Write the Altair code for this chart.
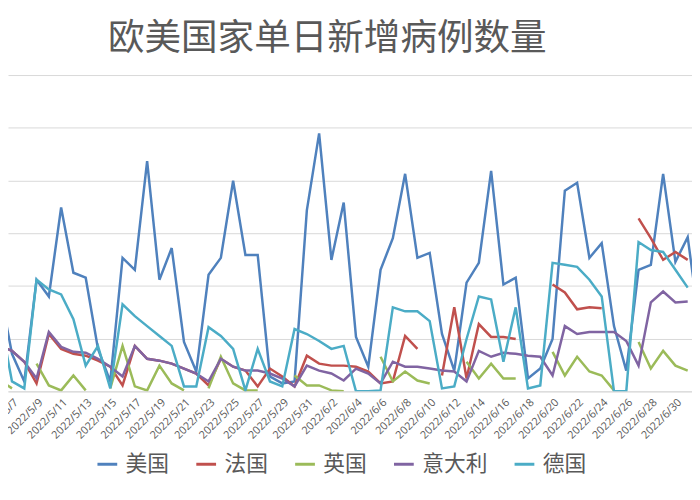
import altair as alt
import pandas as pd

# categories
dates = [d.strftime("%Y-%m-%d") for d in pd.date_range("2022-05-06", "2022-07-02", freq="D")]
tick_dates = [d for d in pd.date_range("2022-05-07", "2022-07-02", freq="2D")]
series_names = ["美国", "法国", "英国", "意大利", "德国"]
colors = ["#4F81BD", "#C0504D", "#9BBB59", "#8064A2", "#4BACC6"]

# series values (daily new cases)
us = [96600, 35600, 9400, 105900, 90000, 174400, 112500, 107800, 40300, 9400,
      126600, 115300, 218400, 105900, 135900, 46900, 18800, 110600, 126600, 199700,
      129400, 129400, 14100, 7500, 9400, 171600, 244700, 124700, 179100, 51600,
      23400, 115300, 145300, 206300, 126600, 131300, 54400, 19700, 103100, 121900,
      209100, 101300, 107800, 12200, 21600, 49700, 190300, 197800, 126600, 140600,
      61900, 19700, 115300, 120000, 206300, 122800, 146300, 59100]
fr = [43100, 38400, 28100, 7500, 54400, 40300, 35600, 33800, 29100, 23400,
      5600, 43100, 30900, 29100, 26300, 21600, 16900, 5600, 30900, 23400,
      19700, 4700, 21600, 14100, 4700, 33800, 26300, 24400, 24400, 23400,
      18800, 7500, 9400, 52500, 40300, None, 15000, 79700, 12200, 63800,
      51600, 51600, 49700, None, None, 101300, 93800, 77800, 79700, 78800,
      None, None, 164100, 145300, 124700, 132200, 124700, None]
uk = [10300, 2800, None, 26300, 5600, 900, 15000, 900, None, 2800,
      43100, 4700, 900, 24400, 7500, 900, None, 2800, 32800, 7500,
      900, 900, None, None, 15000, 5600, 5600, 900, 0, None,
      None, 32800, 9400, 18800, 10300, 7500, None, None, 28100, 12200,
      26300, 12200, 12200, None, None, 37500, 15000, 32800, 18800, 15000,
      900, None, 46900, 21600, 38400, 24400, 19700, None]
it = [43100, 38400, 28100, 12200, 56300, 42200, 37500, 36600, 30900, 23400,
      14100, 43100, 30900, 29100, 26300, 21600, 16900, 9400, 30900, 23400,
      19700, 19700, 16900, 12200, 4700, 24400, 19700, 16900, 10300, 21600,
      16900, 7500, 28100, 23400, 23400, 21600, 19700, 18800, 9400, 38400,
      32800, 36600, 35600, 33800, 32800, 15000, 61900, 54400, 56300, 56300,
      56300, 47800, 24400, 84400, 94700, 84400, 85300, None]
de = [71300, 9400, 2800, 105900, 96600, 91900, 68400, 24400, 43100, 2800,
      82500, 71300, 61900, 52500, 43100, 4700, 4700, 60900, 52500, 40300,
      900, 40300, 9400, 4700, 59100, 54400, 47800, 40300, 43100, 0,
      0, 900, 79700, 75900, 75900, 66600, 2800, 4700, 49700, 90000,
      87200, 28100, 79700, 2800, 5600, 121900, 120000, 118100, 105900, 90000,
      0, 0, 141600, 134100, 132200, 115300, 98400, None]

y_grid = [0, 50000, 100000, 150000, 200000, 250000, 300000]

rows = []
for name, vals in zip(series_names, [us, fr, uk, it, de]):
    for d, v in zip(dates, vals):
        rows.append({"date": d, "country": name, "cases": v})
df = pd.DataFrame(rows)

tick_values = [alt.DateTime(year=t.year, month=t.month, date=t.day, utc=True) for t in tick_dates]

chart = alt.Chart(df).mark_line(
    strokeWidth=2.5, clip=True, invalid="break-paths-filter-domains"
).encode(
    x=alt.X(
        "date:T",
        scale=alt.Scale(
            type="utc",
            domain=[
                alt.DateTime(year=2022, month=5, date=6, hours=16, minutes=13, utc=True),
                alt.DateTime(year=2022, month=7, date=1, hours=8, minutes=24, utc=True),
            ],
        ),
        axis=alt.Axis(
            values=tick_values,
            labelExpr="utcFormat(datum.value, '%Y/%-m/%-d')",
            labelAngle=-45,
            labelFontSize=11,
            labelFont="Open Sans",
            labelColor="#595959",
            labelPadding=5,
            labelOverlap=False,
            labelFlush=False,
            labelBound=False,
            ticks=False,
            domainColor="#d9d9d9",
            domainWidth=1,
            grid=False,
            title=None,
        ),
    ),
    y=alt.Y(
        "cases:Q",
        scale=alt.Scale(domain=[0, 300000], nice=False, zero=True),
        axis=alt.Axis(
            values=y_grid,
            labels=False,
            ticks=False,
            domain=False,
            grid=True,
            gridColor="#d9d9d9",
            gridWidth=1,
            title=None,
        ),
    ),
    color=alt.Color(
        "country:N",
        scale=alt.Scale(domain=series_names, range=colors),
        legend=alt.Legend(
            title=None,
            orient="none",
            legendX=89,
            legendY=382,
            direction="horizontal",
            symbolType="stroke",
            symbolSize=400,
            symbolStrokeWidth=3,
            labelFontSize=22,
            labelFont="Noto Sans CJK SC",
            labelColor="#595959",
            labelOffset=7,
            columnPadding=20,
            labelLimit=0,
        ),
    ),
).properties(
    width=692,
    height=320,
    title=alt.TitleParams(
        "欧美国家单日新增病例数量",
        fontSize=37,
        font="Noto Sans CJK SC",
        fontWeight="normal",
        color="#595959",
        anchor="middle",
        dx=-23,
        offset=17,
    ),
    padding={"left": 0, "top": 65, "right": 0, "bottom": 100},
    autosize=alt.AutoSizeParams(type="none"),
).configure_view(stroke=None)

chart.save("out.html", embed_options={"renderer": "svg", "actions": False})
